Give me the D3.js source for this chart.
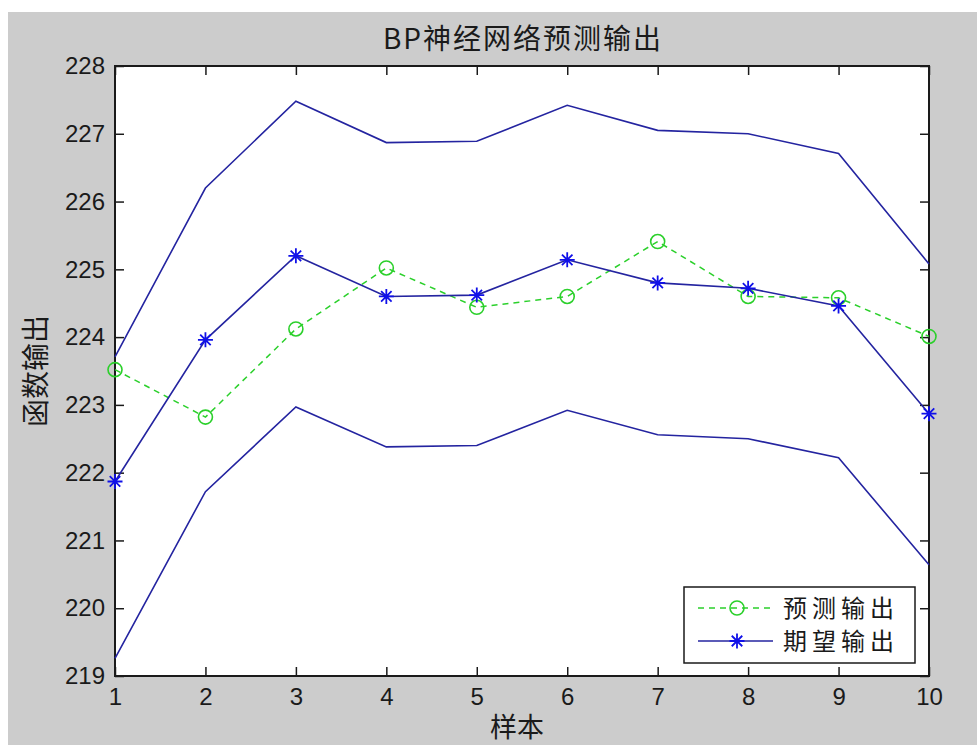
<!DOCTYPE html>
<html>
<head>
<meta charset="utf-8">
<script src="https://cdn.jsdelivr.net/npm/d3@7"></script>
<style>
  html, body { margin: 0; padding: 0; background: #ffffff; }
  svg { display: block; }
  .tick text { font-family: "Liberation Sans", Arial, sans-serif; font-size: 24px; fill: #1a1a1a; }
  .cjk { font-family: "Noto Sans CJK SC", sans-serif; fill: #1a1a1a; }
</style>
</head>
<body>
<svg id="chart" width="977" height="745"></svg>
<script>
// Sample index and the three curves plus the predicted series
const samples   = [1, 2, 3, 4, 5, 6, 7, 8, 9, 10];
const predicted = [223.52, 222.82, 224.12, 225.02, 224.44, 224.60, 225.41, 224.60, 224.58, 224.01];
const expected  = [221.87, 223.96, 225.20, 224.60, 224.62, 225.14, 224.80, 224.72, 224.46, 222.87];
const upperBand = [223.71, 226.20, 227.48, 226.87, 226.89, 227.42, 227.05, 227.00, 226.71, 225.08];
const lowerBand = [219.26, 221.72, 222.97, 222.38, 222.40, 222.92, 222.56, 222.50, 222.22, 220.64];
const xTicks = [1, 2, 3, 4, 5, 6, 7, 8, 9, 10];
const yTicks = [219, 220, 221, 222, 223, 224, 225, 226, 227, 228];

const title = "BP神经网络预测输出";
const xLabel = "样本";
const yLabel = "函数输出";
const legendNames = ["预测输出", "期望输出"];

const W = 977, H = 745;
const plot = { left: 115, right: 929, top: 66, bottom: 676 };

const svg = d3.select("#chart");

// figure background
svg.append("rect").attr("x", 0).attr("y", 0).attr("width", W).attr("height", H).attr("fill", "#ffffff");
svg.append("rect").attr("x", 8).attr("y", 12).attr("width", W - 8).attr("height", H - 12).attr("fill", "#cccccc");

const x = d3.scaleLinear().domain([1, 10]).range([plot.left, plot.right]);
const y = d3.scaleLinear().domain([219, 228]).range([plot.bottom, plot.top]);

// axes area
svg.append("rect")
  .attr("x", plot.left).attr("y", plot.top)
  .attr("width", plot.right - plot.left).attr("height", plot.bottom - plot.top)
  .attr("fill", "#ffffff");

const tickLen = 9;
function styleAxis(g) {
  g.select(".domain").remove();
  g.selectAll(".tick line").attr("stroke", "#1a1a1a").attr("stroke-width", 1.5);
}

svg.append("g").attr("transform", `translate(0,${plot.bottom})`)
  .call(d3.axisBottom(x).tickValues(xTicks).tickFormat(d3.format("d")).tickSizeInner(-tickLen).tickSizeOuter(0).tickPadding(12))
  .call(styleAxis);
svg.append("g").attr("transform", `translate(0,${plot.top})`)
  .call(d3.axisTop(x).tickValues(xTicks).tickFormat("").tickSizeInner(-tickLen).tickSizeOuter(0))
  .call(styleAxis);
svg.append("g").attr("transform", `translate(${plot.left},0)`)
  .call(d3.axisLeft(y).tickValues(yTicks).tickFormat(d3.format("d")).tickSizeInner(-tickLen).tickSizeOuter(0).tickPadding(10))
  .call(styleAxis);
svg.append("g").attr("transform", `translate(${plot.right},0)`)
  .call(d3.axisRight(y).tickValues(yTicks).tickFormat("").tickSizeInner(-tickLen).tickSizeOuter(0))
  .call(styleAxis);

svg.selectAll(".tick text").attr("font-family", null).attr("font-size", null).attr("fill", null);

// axes box
svg.append("rect")
  .attr("x", plot.left).attr("y", plot.top)
  .attr("width", plot.right - plot.left).attr("height", plot.bottom - plot.top)
  .attr("fill", "none").attr("stroke", "#1a1a1a").attr("stroke-width", 2);

// titles
svg.append("text").attr("class", "cjk")
  .attr("x", (plot.left + plot.right) / 2 + 1).attr("y", 49)
  .attr("text-anchor", "middle").attr("font-size", 28).attr("letter-spacing", 2)
  .text(title);
svg.append("text").attr("class", "cjk")
  .attr("x", 517).attr("y", 737)
  .attr("text-anchor", "middle").attr("font-size", 27)
  .text(xLabel);
svg.append("text").attr("class", "cjk")
  .attr("transform", `translate(46,${(plot.top + plot.bottom) / 2}) rotate(-90)`)
  .attr("text-anchor", "middle").attr("font-size", 28)
  .text(yLabel);

const line = d3.line().x((d, i) => x(samples[i])).y(d => y(d));

const navy = "#2424a0";
const green = "#2bd02b";

// predicted series: green dashed with circles
svg.append("path").datum(predicted).attr("d", line)
  .attr("fill", "none").attr("stroke", green).attr("stroke-width", 1.5)
  .attr("stroke-dasharray", "6,5");
svg.selectAll(".pred").data(predicted).enter().append("circle")
  .attr("cx", (d, i) => x(samples[i])).attr("cy", d => y(d)).attr("r", 7)
  .attr("fill", "none").attr("stroke", green).attr("stroke-width", 1.6);

// expected series: blue solid with asterisks
svg.append("path").datum(expected).attr("d", line)
  .attr("fill", "none").attr("stroke", navy).attr("stroke-width", 1.6);

function asterisk(g, cx, cy, s, color) {
  const d = s * 0.7;
  const path = `M${cx - s},${cy}L${cx + s},${cy}M${cx},${cy - s}L${cx},${cy + s}` +
               `M${cx - d},${cy - d}L${cx + d},${cy + d}M${cx - d},${cy + d}L${cx + d},${cy - d}`;
  g.append("path").attr("d", path).attr("stroke", color).attr("stroke-width", 1.8).attr("fill", "none");
}
const starG = svg.append("g");
expected.forEach((d, i) => asterisk(starG, x(samples[i]), y(d), 7.5, "#1010e8"));

// upper and lower bands
[upperBand, lowerBand].forEach(band => {
  svg.append("path").datum(band).attr("d", line)
    .attr("fill", "none").attr("stroke", navy).attr("stroke-width", 1.6);
});

// legend
const lg = svg.append("g");
lg.append("rect").attr("x", 684).attr("y", 587).attr("width", 231).attr("height", 76)
  .attr("fill", "#ffffff").attr("stroke", "#1a1a1a").attr("stroke-width", 1.5);
const rows = [608, 641];
lg.append("line").attr("x1", 698).attr("x2", 773).attr("y1", rows[0]).attr("y2", rows[0])
  .attr("stroke", green).attr("stroke-width", 1.5).attr("stroke-dasharray", "6,5");
lg.append("circle").attr("cx", 737).attr("cy", rows[0]).attr("r", 7)
  .attr("fill", "none").attr("stroke", green).attr("stroke-width", 1.6);
lg.append("line").attr("x1", 698).attr("x2", 773).attr("y1", rows[1]).attr("y2", rows[1])
  .attr("stroke", navy).attr("stroke-width", 1.6);
asterisk(lg, 737, rows[1], 7.5, "#1010e8");
legendNames.forEach((name, i) => {
  lg.append("text").attr("class", "cjk")
    .attr("x", 783).attr("y", rows[i] + 9)
    .attr("font-size", 24).attr("letter-spacing", 5)
    .text(name);
});
</script>
</body>
</html>
